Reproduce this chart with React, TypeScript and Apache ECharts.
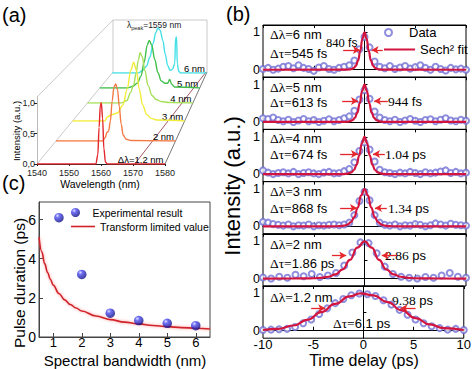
import React, { useEffect, useRef } from 'react';
import * as echarts from 'echarts';

const SANS = 'Liberation Sans, Arial, sans-serif';
const SERIF = 'Liberation Serif, Times New Roman, serif';

// ---------------- (a) optical spectra, [wavelength nm, normalized intensity] ----------------
const spec12nm = [[1540, 0], [1558.4, 0], [1559.0, 0.15], [1559.4, 0.6], [1559.8, 0.97], [1560.1, 1.0], [1560.5, 0.75], [1560.9, 0.25], [1561.4, 0.03], [1562, 0], [1580, 0]];
const spec2nm = [[1540, 0], [1555.5, 0], [1556.5, 0.06], [1557.0, 0.15], [1557.6, 0.17], [1558.2, 0.35], [1558.8, 0.7], [1559.4, 0.95], [1560, 1.0], [1560.6, 0.9], [1561.2, 0.6], [1561.8, 0.3], [1562.5, 0.1], [1563.5, 0.03], [1565, 0.01], [1580, 0]];
const spec3nm = [[1540, 0], [1551.5, 0], [1552.5, 0.08], [1554, 0.12], [1556, 0.15], [1558, 0.3], [1559.5, 0.6], [1560.8, 0.95], [1561.8, 1.1], [1562.8, 0.95], [1563.8, 0.6], [1565, 0.3], [1566.5, 0.12], [1568, 0.05], [1570, 0.02], [1580, 0]];
const spec4nm = [[1540, 0], [1553, 0], [1555, 0.05], [1556.3, 0.2], [1557.5, 0.35], [1558.5, 0.6], [1559.3, 0.85], [1560, 1.0], [1560.8, 0.92], [1561.8, 0.65], [1563, 0.35], [1564.5, 0.15], [1566, 0.07], [1568, 0.03], [1571, 0.01], [1580, 0]];
const spec5nm = [[1540, 0], [1551, 0], [1553, 0.03], [1555, 0.1], [1556.5, 0.25], [1557.8, 0.55], [1559, 0.9], [1559.8, 1.0], [1560.8, 0.9], [1562, 0.6], [1563.3, 0.32], [1564.6, 0.15], [1566, 0.1], [1567.2, 0.1], [1568, 0.18], [1568.8, 0.08], [1570, 0.02], [1580, 0]];
const spec6nm = [[1540, 0], [1551, 0], [1553, 0.06], [1554.5, 0.15], [1556, 0.35], [1557.3, 0.65], [1558.5, 0.9], [1559.4, 1.0], [1560.3, 0.95], [1561.5, 0.72], [1562.5, 0.42], [1563.5, 0.17], [1564.5, 0.06], [1565.5, 0.08], [1566.5, 0.2], [1566.9, 0.78], [1567.3, 0.8], [1567.6, 0.2], [1568.2, 0.04], [1569, 0], [1580, 0]];
const specLabels = ['Δλ=1.2 nm', '2 nm', '3 nm', '4 nm', '5 nm', '6 nm'];
const specColors = ['#e3262b', '#f47a45', '#f2ec3a', '#a6df58', '#3fbf4a', '#45e0e6'];
const wlTicks = [1540, 1550, 1560, 1570, 1580];
const intTicks = [0, 0.5, 1];

// ---------------- (b) autocorrelation traces ----------------
const tA = [-10, -9.5, -9, -8.5, -8, -7.5, -7, -6.5, -6, -5.5, -5, -4.5, -4, -3.5, -3, -2.5, -2, -1.5, -1, -0.5, 0, 0.5, 1, 1.5, 2, 2.5, 3, 3.5, 4, 4.5, 5, 5.5, 6, 6.5, 7, 7.5, 8, 8.5, 9, 9.5, 10];
const tB = [-10, -9.2, -8.4, -7.6, -6.8, -6, -5.2, -4.4, -3.6, -2.8, -2, -1.2, -0.4, 0.4, 1.2, 2, 2.8, 3.6, 4.4, 5.2, 6, 6.8, 7.6, 8.4, 9.2, 10];
const ac6nm = [0.02, 0.05, 0.0, 0.03, 0.08, 0.1, 0.04, 0.12, 0.05, 0.02, -0.03, 0.06, 0.1, 0.02, 0.0, 0.05, 0.08, 0.12, 0.25, 0.55, 0.88, 0.6, 0.22, 0.08, 0.04, 0.1, 0.02, 0.06, 0.1, 0.03, 0.07, 0.12, 0.05, 0.0, 0.08, 0.02, -0.02, 0.05, 0.01, 0.03, 0.0];
const ac5nm = [0.1, 0.08, 0.12, 0.05, 0.02, 0.06, 0.0, 0.04, 0.08, 0.02, 0.05, 0.0, 0.03, 0.07, 0.02, 0.05, 0.1, 0.15, 0.3, 0.6, 0.85, 0.62, 0.28, 0.12, 0.05, 0.02, 0.06, 0.0, 0.04, 0.08, 0.03, 0.0, 0.05, 0.07, 0.02, 0.06, 0.1, 0.04, 0.02, 0.06, 0.03];
const ac4nm = [0.1, 0.04, 0.0, 0.03, 0.05, 0.02, 0.06, 0.0, 0.03, 0.05, 0.02, 0.0, 0.04, 0.06, 0.02, 0.03, 0.08, 0.14, 0.32, 0.62, 0.85, 0.66, 0.34, 0.12, 0.05, 0.03, 0.0, 0.04, 0.02, 0.06, 0.03, 0.0, 0.05, 0.02, 0.04, 0.07, 0.1, 0.03, 0.06, 0.02, 0.04];
const ac3nm = [0.12, 0.1, 0.06, 0.04, 0.02, 0.05, 0.0, 0.03, 0.02, 0.05, 0.0, 0.03, 0.02, 0.04, 0.05, 0.03, 0.05, 0.1, 0.3, 0.68, 0.93, 0.7, 0.3, 0.1, 0.04, 0.02, 0.05, 0.0, 0.03, 0.02, 0.06, 0.04, 0.0, 0.03, 0.08, 0.05, 0.02, 0.07, 0.04, 0.03, 0.02];
const ac2nm = [0.03, 0.0, 0.05, 0.02, 0.1, 0.06, 0.12, 0.04, 0.08, 0.15, 0.35, 0.7, 0.97, 0.95, 0.68, 0.32, 0.12, 0.05, 0.02, 0.0, 0.04, 0.02, 0.08, 0.15, 0.05, 0.02];
const ac12nm = [0.02, 0.03, 0.04, 0.05, 0.1, 0.2, 0.3, 0.45, 0.6, 0.74, 0.85, 0.95, 1.0, 0.98, 0.93, 0.82, 0.7, 0.56, 0.43, 0.3, 0.2, 0.12, 0.07, 0.03, 0.05, 0.02];

const fit6nm = [[-10, 0], [-2.1, 0.001], [-1.68, 0.003], [-1.47, 0.008], [-1.26, 0.02], [-1.05, 0.048], [-0.84, 0.111], [-0.63, 0.248], [-0.42, 0.5], [-0.21, 0.828], [0, 1], [0.21, 0.828], [0.42, 0.5], [0.63, 0.248], [0.84, 0.111], [1.05, 0.048], [1.26, 0.02], [1.47, 0.008], [1.68, 0.003], [2.1, 0.001], [10, 0]];
const fit5nm = [[-10, 0], [-2.36, 0.001], [-1.888, 0.003], [-1.652, 0.008], [-1.416, 0.02], [-1.18, 0.048], [-0.944, 0.111], [-0.708, 0.248], [-0.472, 0.5], [-0.236, 0.828], [0, 1], [0.236, 0.828], [0.472, 0.5], [0.708, 0.248], [0.944, 0.111], [1.18, 0.048], [1.416, 0.02], [1.652, 0.008], [1.888, 0.003], [2.36, 0.001], [10, 0]];
const fit4nm = [[-10, 0], [-2.6, 0.001], [-2.08, 0.003], [-1.82, 0.008], [-1.56, 0.02], [-1.3, 0.048], [-1.04, 0.111], [-0.78, 0.248], [-0.52, 0.5], [-0.26, 0.828], [0, 1], [0.26, 0.828], [0.52, 0.5], [0.78, 0.248], [1.04, 0.111], [1.3, 0.048], [1.56, 0.02], [1.82, 0.008], [2.08, 0.003], [2.6, 0.001], [10, 0]];
const fit3nm = [[-10, 0], [-3.35, 0.001], [-2.68, 0.003], [-2.345, 0.008], [-2.01, 0.02], [-1.675, 0.048], [-1.34, 0.111], [-1.005, 0.248], [-0.67, 0.5], [-0.335, 0.828], [0, 1], [0.335, 0.828], [0.67, 0.5], [1.005, 0.248], [1.34, 0.111], [1.675, 0.048], [2.01, 0.02], [2.345, 0.008], [2.68, 0.003], [3.35, 0.001], [10, 0]];
const fit2nm = [[-10, 0], [-7.15, 0.001], [-5.72, 0.003], [-5.005, 0.008], [-4.29, 0.02], [-3.575, 0.048], [-2.86, 0.111], [-2.145, 0.248], [-1.43, 0.5], [-0.715, 0.828], [0, 1], [0.715, 0.828], [1.43, 0.5], [2.145, 0.248], [2.86, 0.111], [3.575, 0.048], [4.29, 0.02], [5.005, 0.008], [5.72, 0.003], [7.15, 0.001], [10, 0]];
const fit12nm = [[-10, 0.02], [-8.5, 0.05], [-7, 0.14], [-5.5, 0.3], [-4.2, 0.5], [-2.8, 0.72], [-1.4, 0.92], [-0.3, 1.0], [1, 0.95], [2.4, 0.77], [3.8, 0.55], [5.2, 0.34], [6.6, 0.17], [8, 0.07], [10, 0.02]];

const bDeltaLambda = ['6 nm', '5 nm', '4 nm', '3 nm', '2 nm', '1.2 nm'];
const bDeltaTauNum = ['545', '613', '674', '868', '1.86', '6.1'];
const bDeltaTauUnit = ['fs', 'fs', 'fs', 'fs', 'ps', 'ps'];
const bAcNum = ['840', '944', '1.04', '1.34', '2.86', '9.38'];
const bAcUnit = ['fs', 'fs', 'ps', 'ps', 'ps', 'ps'];
// arrow annotations [tailT, headT, level] for left and right arrows
const arrowsLeft = [[-2.1, -0.45, 0.53], [-2.2, -0.64, 0.56], [-2.4, -0.64, 0.54], [-2.4, -0.74, 0.49], [-3.2, -1.8, 0.62], [-5.2, -3.8, 0.6]];
const arrowsRight = [[1.8, 0.7, 0.53], [2.3, 0.95, 0.56], [2.0, 0.84, 0.54], [2.2, 1.03, 0.49], [3.2, 1.7, 0.62], [5.2, 3.7, 0.6]];

// ---------------- (c) pulse duration vs bandwidth ----------------
const bandwidth = [1.2, 2, 3, 4, 5, 6];
const pulseDuration = [6.1, 3.2, 1.22, 0.84, 0.7, 0.58];
const tlBandwidth = [0.5, 0.6, 0.7, 0.8, 0.9, 1, 1.2, 1.4, 1.6, 1.8, 2, 2.5, 3, 3.5, 4, 4.5, 5, 5.5, 6, 6.5];
const tlDuration = [5.1, 4.35, 3.75, 3.3, 2.95, 2.65, 2.22, 1.9, 1.66, 1.48, 1.33, 1.07, 0.89, 0.76, 0.67, 0.59, 0.53, 0.48, 0.45, 0.41];
const bwTicks = [1, 2, 3, 4, 5, 6];
const durTicks = [0, 2, 4, 6];

function txt(x: number, y: number, text: string, size: number, opts: any = {}) {
  const { rich, align, vAlign, family, fill, rotation } = opts;
  return {
    type: 'text', x, y, silent: true, rotation: rotation || 0,
    style: {
      text, fontSize: size, fontFamily: family || SANS, fill: fill || '#000',
      align: align || 'left', verticalAlign: vAlign || 'middle', rich: rich || undefined,
    },
  };
}
function seg(x1: number, y1: number, x2: number, y2: number, color: string, w = 0.8) {
  return { type: 'line', silent: true, shape: { x1, y1, x2, y2 }, style: { stroke: color, lineWidth: w } };
}

function buildOption() {
  const grid: any[] = [];
  const xAxis: any[] = [];
  const yAxis: any[] = [];
  const series: any[] = [];
  const graphic: any[] = [];

  // ----- (a) layout -----
  const aBase = [164, 141, 121, 103, 88, 73];
  const aL = (y: number) => 37 + (164 - y) * 76 / 92;
  const aR = (y: number) => 165 + (164 - y) * 42 / 92;
  const spectra = [spec12nm, spec2nm, spec3nm, spec4nm, spec5nm, spec6nm];
  for (let k = 0; k < 6; k++) {
    const y0 = aBase[k];
    const L = aL(y0), R = aR(y0);
    const unit = 61 * (R - L) / 128;
    const M = k === 0 ? 1.1 : 1.3;
    grid.push({ left: L, top: y0 - M * unit, width: R - L, height: M * unit, show: false });
    xAxis.push({
      type: 'value', gridIndex: k, min: 1540, max: 1580, interval: 10, show: k === 0,
      axisLine: { lineStyle: { color: '#222', width: 1 } },
      axisTick: { show: true, length: 2, customValues: wlTicks, lineStyle: { color: '#222' } },
      axisLabel: {
        customValues: wlTicks, fontSize: 9, fontFamily: SANS, color: '#222', margin: 4,
        formatter: (v: number) => String(Math.round(v)),
      },
      splitLine: { show: false },
    });
    yAxis.push({
      type: 'value', gridIndex: k, min: 0, max: M, show: k === 0,
      axisLine: { show: true, lineStyle: { color: '#aaa', width: 0.8 } },
      axisTick: { show: true, length: 3, customValues: intTicks, lineStyle: { color: '#222' } },
      axisLabel: {
        customValues: intTicks, fontSize: 9, fontFamily: SANS, color: '#222', margin: 2,
        formatter: (v: number) => v.toFixed(1).replace('.', ','),
      },
      splitLine: { show: false },
    });
  }
  for (let k = 5; k >= 0; k--) {
    series.push({
      type: 'line', xAxisIndex: k, yAxisIndex: k, data: spectra[k], smooth: 0.35, smoothMonotone: 'x',
      symbol: 'none', silent: true, lineStyle: { color: specColors[k], width: 1.4 }, z: 3,
    });
  }
  // (a) frame & labels
  graphic.push(seg(37, 164, 113, 72, '#bdbdbd'));
  graphic.push(seg(37, 97, 113, 20, '#bdbdbd'));
  graphic.push({ type: 'polyline', silent: true, shape: { points: [[113, 72], [113, 20], [207, 20], [207, 72]] }, style: { stroke: '#bdbdbd', lineWidth: 0.8, fill: null } });
  graphic.push(seg(165, 164, 207, 72, '#555'));
  graphic.push(seg(134, 165, 206, 72, '#8a3040'));
  for (let k = 0; k < 6; k++) {
    graphic.push(txt(aR(aBase[k]) - 1.5, aBase[k] - 5, specLabels[k], 9.5, { align: 'right' }));
  }
  graphic.push(txt(127, 25, '{l|λ}{p|peak}{l|=1559 nm}', 8.5, {
    rich: { l: { fontSize: 8.5, fontFamily: SANS, fill: '#222' }, p: { fontSize: 5.5, fontFamily: SANS, fill: '#222', padding: [5, 0, 0, 0] } },
  }));
  graphic.push(txt(100, 184, 'Wavelength (nm)', 10.5, { align: 'center' }));
  graphic.push(txt(16, 131, 'Intensity (a.u.)', 9.5, { align: 'center', rotation: Math.PI / 2 }));
  graphic.push(txt(2, 15, '(a)', 20));

  // ----- (b) layout -----
  const bTop0 = 25, bH = 52.2, bLeft = 263, bW = 203;
  const acData = [ac6nm, ac5nm, ac4nm, ac3nm, ac2nm, ac12nm];
  const acTimes = [tA, tA, tA, tA, tB, tB];
  const fits = [fit6nm, fit5nm, fit4nm, fit3nm, fit2nm, fit12nm];
  for (let i = 0; i < 6; i++) {
    grid.push({ left: bLeft, top: bTop0 + bH * i, width: bW, height: bH, show: true, borderColor: '#000', borderWidth: 1 });
  }
  for (let i = 0; i < 6; i++) {
    xAxis.push({
      type: 'value', gridIndex: 6 + i, min: -10, max: 10, interval: 5, position: 'bottom',
      axisLine: { lineStyle: { color: '#000', width: 1 } },
      axisTick: { inside: true, length: 4, lineStyle: { color: '#000' } },
      axisLabel: { show: i === 5, fontSize: 13, fontFamily: SANS, color: '#000', margin: 0 },
      splitLine: { show: false },
    });
  }
  for (let i = 0; i < 6; i++) {
    xAxis.push({
      type: 'value', gridIndex: 6 + i, min: -10, max: 10, interval: 5, position: 'top',
      axisLine: { lineStyle: { color: '#000', width: 1 } },
      axisTick: { inside: true, length: 3, lineStyle: { color: '#000' } },
      axisLabel: { show: false }, splitLine: { show: false },
    });
  }
  for (let i = 0; i < 6; i++) {
    yAxis.push({
      type: 'value', gridIndex: 6 + i, min: -0.2, max: 1.2,
      axisLine: { lineStyle: { color: '#000', width: 1 } },
      axisTick: { inside: true, length: 3, customValues: [0, 0.5, 1], lineStyle: { color: '#000' } },
      axisLabel: { customValues: [0, 1], fontSize: 12.5, fontFamily: SANS, color: '#000', margin: 3 },
      splitLine: { show: false },
    });
  }
  for (let i = 0; i < 6; i++) {
    const times = acTimes[i];
    const vals = acData[i];
    series.push({
      type: 'scatter', name: 'Data', xAxisIndex: 6 + i, yAxisIndex: 6 + i,
      data: times.map((t, j) => [t, vals[j]]), symbol: 'emptyCircle', symbolSize: 6,
      itemStyle: { color: '#7272d4', borderWidth: 1 }, silent: true, z: 2,
    });
    series.push({
      type: 'line', name: 'Sech² fit', xAxisIndex: 6 + i, yAxisIndex: 6 + i, data: fits[i],
      smooth: 0.5, smoothMonotone: 'x', symbol: 'none', showSymbol: false, silent: true,
      lineStyle: { color: '#d3143f', width: 2.2 }, itemStyle: { color: '#d3143f' }, z: 3,
      markLine: {
        silent: true, symbol: ['none', 'arrow'], symbolSize: [6, 7],
        lineStyle: { color: '#e5262c', width: 1.3, type: 'solid' }, label: { show: false },
        emphasis: { disabled: true },
        data: [
          [{ coord: [arrowsLeft[i][0], arrowsLeft[i][2]] }, { coord: [arrowsLeft[i][1], arrowsLeft[i][2]] }],
          [{ coord: [arrowsRight[i][0], arrowsRight[i][2]] }, { coord: [arrowsRight[i][1], arrowsRight[i][2]] }],
        ],
      },
    });
  }
  // (b) texts
  const dlPos = [[270, 34], [270, 87], [270, 138], [270, 191], [270, 244], [270, 297]];
  const dtPos = [[270, 53], [270, 102], [270, 154], [270, 208], [270, 263], [333, 323]];
  const acPos = [[326, 43], [388, 101], [385, 154], [388, 208], [385, 255], [392, 300]];
  const acSize = [12, 13, 13, 13, 13, 13];
  const serifRich = { g: { fontFamily: SERIF, fontSize: 13.5, fill: '#000' } };
  const serifRichSmall = { g: { fontFamily: SERIF, fontSize: 12.5, fill: '#000' } };
  for (let i = 0; i < 6; i++) {
    graphic.push(txt(dlPos[i][0], dlPos[i][1], '{g|Δλ=}' + bDeltaLambda[i], 13, { rich: serifRich }));
    graphic.push(txt(dtPos[i][0], dtPos[i][1], '{g|Δτ=}' + bDeltaTauNum[i] + ' ' + bDeltaTauUnit[i], 13, { rich: serifRich }));
    graphic.push(txt(acPos[i][0], acPos[i][1], '{g|' + bAcNum[i] + '} ' + bAcUnit[i], acSize[i], { rich: i === 0 ? serifRichSmall : serifRich }));
  }
  graphic.push(txt(226, 14, '(b)', 20));
  graphic.push(txt(232, 186, 'Intensity (a.u.)', 22, { align: 'center', rotation: Math.PI / 2 }));
  graphic.push(txt(364, 360, 'Time delay (ps)', 16, { align: 'center' }));

  // ----- (c) -----
  grid.push({ left: 39, top: 202, width: 171, height: 135, show: true, borderColor: '#444', borderWidth: 1 });
  xAxis.push({
    type: 'value', gridIndex: 12, min: 0.5, max: 6.5,
    axisLine: { lineStyle: { color: '#444', width: 1 } },
    axisTick: { inside: true, length: 4, customValues: bwTicks, lineStyle: { color: '#444' } },
    axisLabel: { customValues: bwTicks, fontSize: 13, fontFamily: SANS, color: '#000', margin: -1 },
    splitLine: { show: false },
  });
  yAxis.push({
    type: 'value', gridIndex: 12, min: 0, max: 6.9,
    axisLine: { lineStyle: { color: '#444', width: 1 } },
    axisTick: { inside: true, length: 4, customValues: durTicks, lineStyle: { color: '#444' } },
    axisLabel: { customValues: durTicks, fontSize: 14, fontFamily: SANS, color: '#000', margin: 3 },
    splitLine: { show: false },
  });
  series.push({
    type: 'line', name: 'Transform limited value', xAxisIndex: 18, yAxisIndex: 12,
    data: tlBandwidth.map((b, j) => [b, tlDuration[j]]), smooth: 0.4, smoothMonotone: 'x',
    symbol: 'none', showSymbol: false, silent: true, z: 3,
    lineStyle: { color: '#cf2229', width: 1.6, shadowColor: 'rgba(255,110,110,0.7)', shadowBlur: 3 },
    itemStyle: { color: '#cf2229' },
  });
  series.push({
    type: 'scatter', name: 'Experimental result', xAxisIndex: 18, yAxisIndex: 12,
    data: bandwidth.map((b, j) => [b, pulseDuration[j]]), symbol: 'circle', symbolSize: 9.5, silent: true, z: 5,
    itemStyle: {
      color: new echarts.graphic.RadialGradient(0.35, 0.3, 0.75, [
        { offset: 0, color: '#d8dcff' }, { offset: 0.3, color: '#4a4af2' }, { offset: 1, color: '#0b0b7a' },
      ]),
    },
  });
  graphic.push(txt(2, 183, '(c)', 20));
  graphic.push(txt(19, 283, 'Pulse duration (ps)', 15.5, { align: 'center', rotation: Math.PI / 2 }));
  graphic.push(txt(125, 360, 'Spectral bandwidth (nm)', 15, { align: 'center' }));

  const legendBase = { orient: 'vertical', selectedMode: false, padding: 0 };
  return {
    animation: false,
    backgroundColor: '#fff',
    grid, xAxis, yAxis, series, graphic,
    legend: [
      {
        ...legendBase, data: [{ name: 'Data', icon: 'emptyCircle' }], left: 384, top: 26,
        itemWidth: 31, itemHeight: 7,
        textStyle: { fontSize: 13, fontFamily: SANS, color: '#000' },
      },
      {
        ...legendBase, data: [{ name: 'Sech² fit', icon: 'rect' }], left: 384, top: 43,
        itemWidth: 31, itemHeight: 2,
        textStyle: { fontSize: 13, fontFamily: SANS, color: '#000' },
      },
      {
        ...legendBase, data: [{ name: 'Experimental result', icon: 'circle' }], left: 71, top: 207,
        itemWidth: 24, itemHeight: 9,
        textStyle: { fontSize: 10.5, fontFamily: SANS, color: '#000' },
      },
      {
        ...legendBase, data: [{ name: 'Transform limited value', icon: 'rect' }], left: 71, top: 221,
        itemWidth: 24, itemHeight: 1.6,
        textStyle: { fontSize: 10.5, fontFamily: SANS, color: '#000' },
      },
    ],
  };
}

export default function App() {
  const ref = useRef<HTMLDivElement>(null);
  useEffect(() => {
    if (!ref.current) return;
    const chart = echarts.init(ref.current, undefined, { renderer: 'svg' });
    chart.setOption(buildOption() as any);
    return () => chart.dispose();
  }, []);
  return (
    <div
      ref={ref}
      style={{ position: 'fixed', left: 0, top: 0, width: 474, height: 369, background: '#fff' }}
    />
  );
}
